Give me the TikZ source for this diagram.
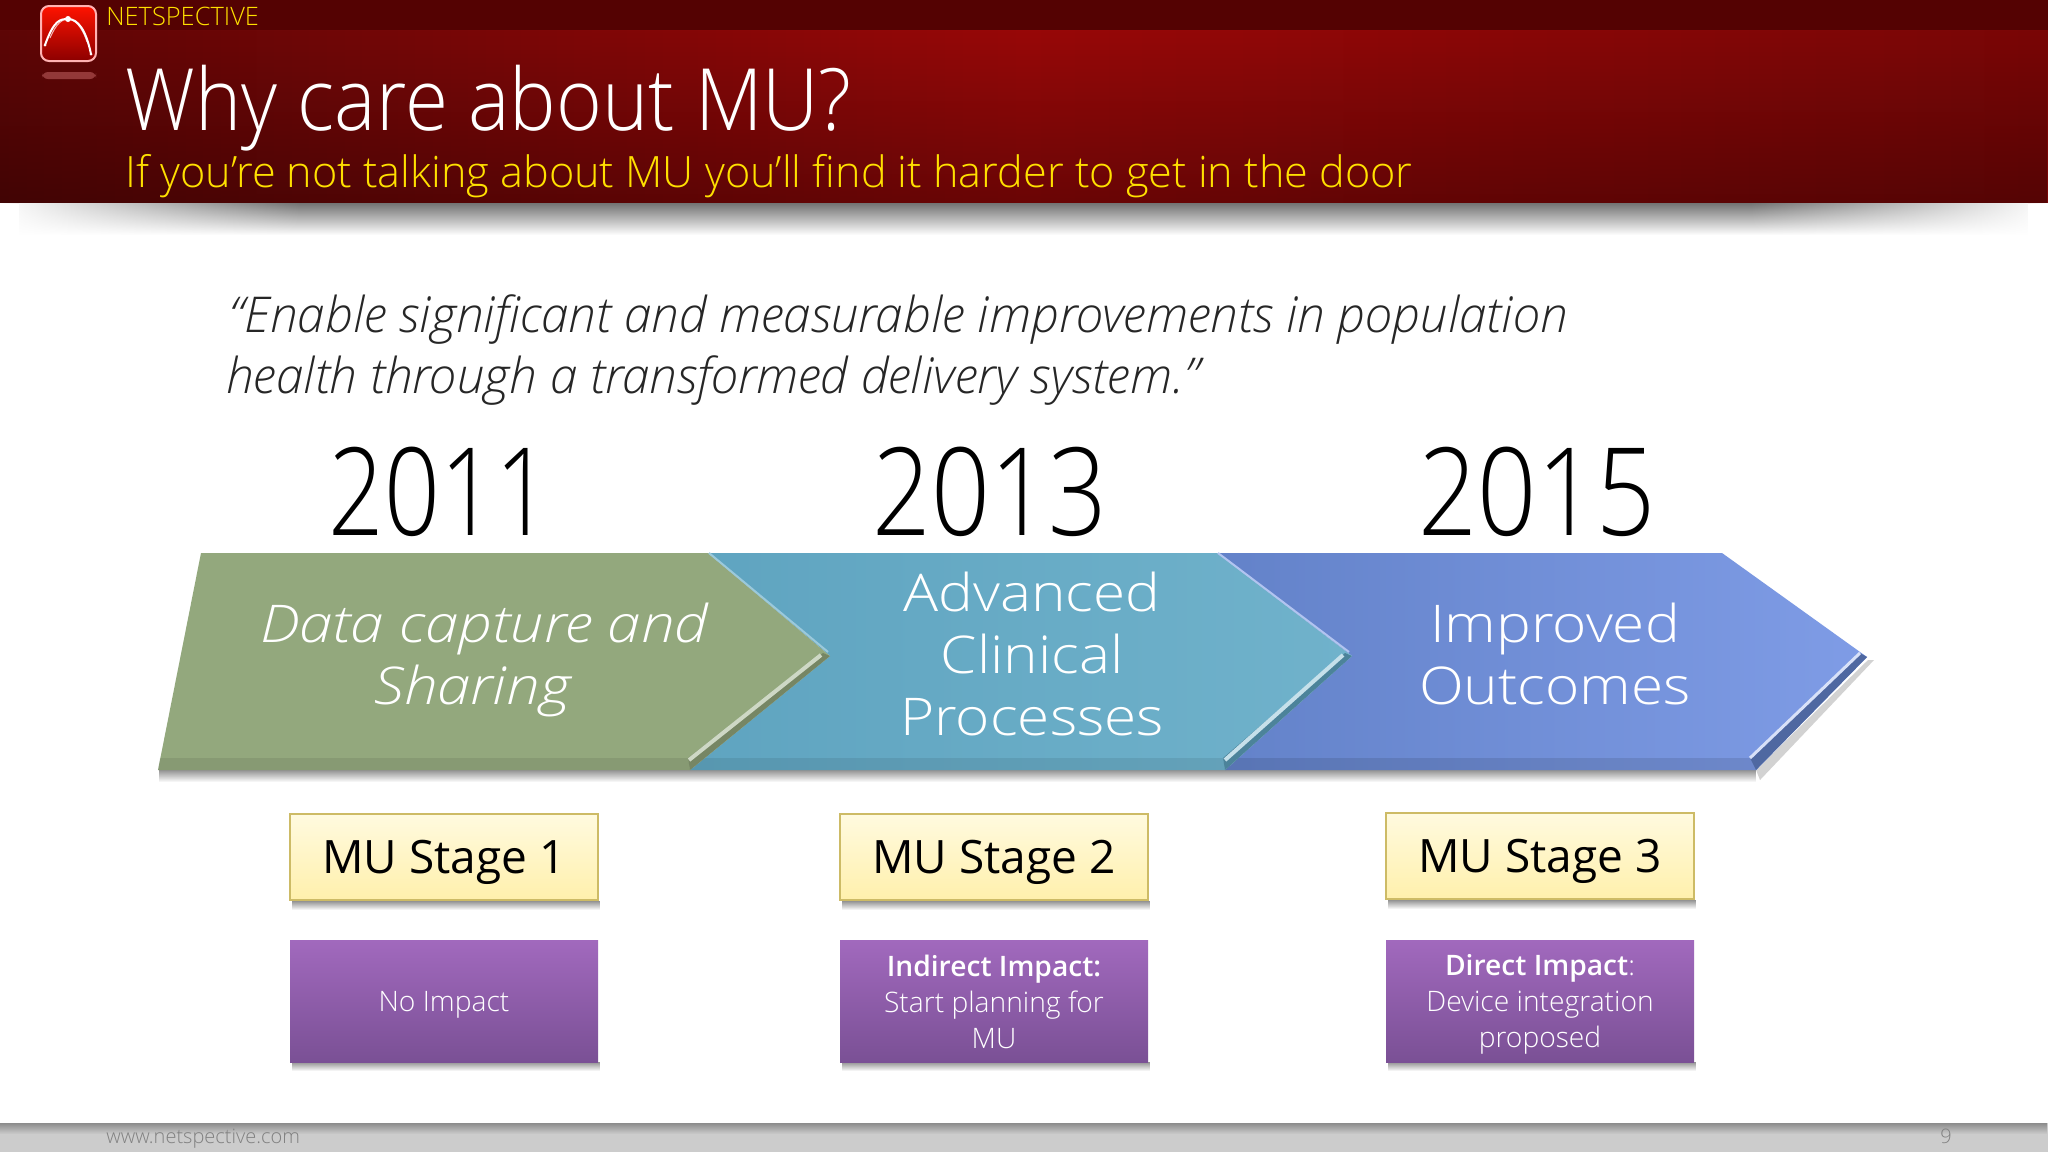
\documentclass[tikz,border=0pt]{standalone}
\usepackage{fontspec}
\setmainfont{Open Sans}[UprightFont=* Light,ItalicFont=* Light Italic]
\newfontfamily\stagefont{Open Sans}
\usetikzlibrary{positioning,fadings}

\definecolor{barcol}{HTML}{540202}
\definecolor{redcol}{HTML}{980808}
\definecolor{reddark}{HTML}{5E0606}
\definecolor{goldcol}{HTML}{FFE000}
\definecolor{greencol}{HTML}{93A87D}
\definecolor{tealcola}{HTML}{5FA4C0}
\definecolor{tealcolb}{HTML}{70B2CB}
\definecolor{bluecola}{HTML}{6382C9}
\definecolor{bluecolb}{HTML}{7F9CE6}
\definecolor{purpcola}{HTML}{A169BD}
\definecolor{purpcolb}{HTML}{7A5095}
\definecolor{stagecola}{HTML}{FFFADF}
\definecolor{stagecolb}{HTML}{FFF0AC}
\definecolor{stageline}{HTML}{CDBB66}

\begin{document}
\begin{tikzpicture}[
  x=0.5pt, y=-0.5pt,
  title/.style={anchor=base west, inner sep=0pt, font=\fontsize{43}{50}\selectfont, text=white, xscale=0.91, transform shape},
  subtitle/.style={anchor=base west, inner sep=0pt, font=\fontsize{21.6}{25}\selectfont, text=goldcol},
  quoteline/.style={anchor=base west, inner sep=0pt, font=\itshape\fontsize{24.7}{30}\selectfont, text=black!85},
  year/.style={anchor=base, inner sep=0pt, font=\fontsize{61}{70}\selectfont, text=black, transform shape},
  chevtext/.style={align=center, text=white, transform shape, inner sep=0pt, font=\fontsize{26}{31}\selectfont},
  stagebox/.style={draw=stageline, line width=1pt, top color=stagecola, bottom color=stagecolb, minimum width=154pt, minimum height=43pt, inner sep=0pt, text depth=-1.5pt, font=\stagefont\fontsize{23}{27}\selectfont, text=black},
  impact/.style={top color=purpcola, bottom color=purpcolb, minimum width=154pt, minimum height=61pt, inner sep=0pt, align=center, text depth=-1pt, font=\fontsize{14.1}{18}\selectfont, text=white, below=19.5pt of #1},
  shadowbox/.style={fill=black!70, path fading=south, opacity=0.6}
]
  % page and header
  \useasboundingbox (0,0) rectangle (2048,1152);
  \fill[white] (0,0) rectangle (2048,1152);
  \shade[left color=reddark, right color=redcol!80!black, middle color=redcol] (0,30) rectangle (2048,203);
  \fill[black, path fading=north, opacity=0.3] (0,30) rectangle (2048,203);
  \fill[barcol] (0,0) rectangle (2048,30);
  \fill[black!55, path fading=south] (20,203) rectangle (2030,235);
  \fill[white, path fading=east] (0,203) rectangle (300,236);
  \fill[white, path fading=west] (1750,203) rectangle (2048,236);

  % logo
  \draw[white!70!red, line width=1pt, rounded corners=4pt, top color=red!85!orange, bottom color=red!55!black] (41,6) rectangle (96,61);
  \draw[white, line width=1pt] (45,45) .. controls (54,20) and (60,19) .. (68,19) .. controls (78,19) and (86,30) .. (91,54);
  \draw[white, line width=0.5pt, opacity=0.7] (50,38) .. controls (56,24) and (62,19) .. (68,19) .. controls (74,19) and (82,26) .. (87,42);
  \fill[white] (68,19) circle (3);
  \fill[white] (45,45) circle (1.5);
  \fill[white] (91,54) circle (1.5);
  \fill[white!60!red, opacity=0.35, rounded corners=3pt] (42,72) rectangle (96,79);

  % header text
  \node[anchor=base west, inner sep=0pt, font=\fontsize{12.7}{15}\selectfont, text=goldcol] (brand) at (106,25) {NETSPECTIVE};
  \node[title] (head) at (125,130) {Why care about MU?};
  \node[subtitle] (sub) at (125,187) {If you’re not talking about MU you’ll find it harder to get in the door};

  % quote
  \node[quoteline] (qa) at (229,332) {“Enable significant and measurable improvements in population};
  \node[quoteline] (qb) at (226,393) {health through a transformed delivery system.”};

  % years
  \node[year, xscale=0.8] (ya) at (440,535) {2011};
  \node[year, xscale=0.845] (yb) at (990,535) {2013};
  \node[year, xscale=0.85] (yc) at (1537,535) {2015};

  % chevrons, last one first
  \fill[shadowbox] (160,770) rectangle (1758,782);
  \fill[black!35, opacity=0.5] (1756,770) -- (1868,660) -- (1874,660) -- (1760,780) -- cycle;
  \shade[left color=bluecola, right color=bluecolb] (1217,553) -- (1722,553) -- (1867,657) -- (1756,770) -- (1225,770) -- (1352,656) -- cycle;
  \fill[black, opacity=0.1] (1225,770) -- (1756,770) -- (1750,758) -- (1236,758) -- cycle;
  \fill[bluecola!80!black] (1867,657) -- (1756,770) -- (1750,758) -- (1860,653) -- cycle;
  \draw[white!70!bluecolb, line width=1.5pt] (1750,758) -- (1860,653);

  \shade[left color=tealcola, right color=tealcolb] (708,553) -- (1217,553) -- (1352,656) -- (1225,770) -- (690,770) -- (830,656) -- cycle;
  \fill[black, opacity=0.08] (690,770) -- (1225,770) -- (1223,758) -- (700,758) -- cycle;
  \fill[tealcola!80!black] (1352,656) -- (1225,770) -- (1223,758) -- (1345,653) -- cycle;
  \draw[white!60!tealcolb, line width=2pt] (1225,760) -- (1343,655);
  \draw[white!40!bluecolb, line width=1pt] (1218,553) -- (1349,652);

  \fill[greencol] (201,553) -- (708,553) -- (830,656) -- (690,770) -- (158,770) -- cycle;
  \fill[black, opacity=0.08] (158,770) -- (690,770) -- (688,758) -- (160,758) -- cycle;
  \fill[greencol!80!black] (830,656) -- (690,770) -- (688,758) -- (823,653) -- cycle;
  \draw[white!55!greencol, line width=2pt] (689,760) -- (821,655);
  \draw[white!30!tealcolb, line width=1pt] (709,553) -- (828,652);

  \node[chevtext, xscale=1.155, font=\itshape\fontsize{26}{31}\selectfont] (capture) at (484,660) {Data capture and\\Sharing\hspace*{10pt}};
  \node[chevtext, xscale=1.125] (clinical) at (1032,654) {Advanced\\Clinical\\Processes};
  \node[chevtext, xscale=1.125] (outcomes) at (1555,654) {Improved\\Outcomes};

  % stage boxes
  \fill[shadowbox] (292,901) rectangle (600,910);
  \fill[shadowbox] (842,901) rectangle (1150,910);
  \fill[shadowbox] (1388,900) rectangle (1696,909);
  \node[stagebox] (sa) at (444,857) {MU Stage 1};
  \node[stagebox] (sb) at (994,857) {MU Stage 2};
  \node[stagebox] (sc) at (1540,856) {MU Stage 3};

  % impact boxes
  \fill[shadowbox] (292,1062) rectangle (600,1071);
  \fill[shadowbox] (842,1062) rectangle (1150,1071);
  \fill[shadowbox] (1388,1062) rectangle (1696,1071);
  \node[impact=sa] (ia) {No Impact};
  \node[impact=sb] (ib) {\textbf{Indirect Impact:}\\Start planning for\\MU};
  \node[impact=sc, yshift=-0.5pt] (ic) {\textbf{Direct Impact}:\\Device integration\\proposed};

  % footer
  \fill[black!20] (0,1123) rectangle (2048,1152);
  \fill[black!45, path fading=south] (0,1123) rectangle (2048,1134);
  \node[anchor=base west, inner sep=0pt, font=\fontsize{10}{12}\selectfont, text=black!50] (site) at (106,1143) {www.netspective.com};
  \node[anchor=base, inner sep=0pt, font=\fontsize{10}{12}\selectfont, text=black!50] (page) at (1946,1143) {9};
\end{tikzpicture}
\end{document}
